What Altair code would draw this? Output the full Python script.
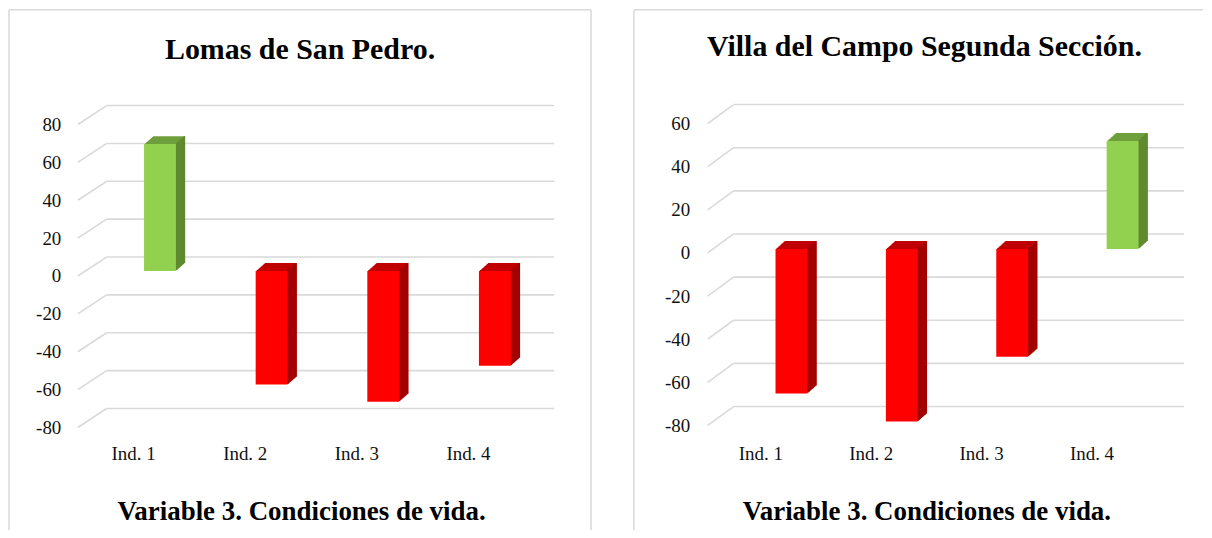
import altair as alt
import pandas as pd

categories = ["Ind. 1", "Ind. 2", "Ind. 3", "Ind. 4"]
lomas_values = [67, -60, -69, -50]
villa_values = [-67, -80, -50, 50]
lomas_ticks = [80, 60, 40, 20, 0, -20, -40, -60, -80]
villa_ticks = [60, 40, 20, 0, -20, -40, -60, -80]
title_left = "Lomas de San Pedro."
title_right = "Villa del Campo Segunda Sección."
x_title = "Variable 3. Condiciones de vida."

FONT = "Times New Roman, Liberation Serif, serif"
GREEN = dict(front="#92d050", top="#6f9e3c", side="#5f8a30")
RED = dict(front="#ff0000", top="#c00000", side="#a30000")
GRID = "#d9d9d9"
H = 522


def panel(values, ticks, title, width, yrange, xrange, label_right, bar_shift,
          zero_shift, diag_x0, back_x0, back_x1, right_frame, title_dx, title_off):
    bars = pd.DataFrame({"cat": categories, "v": values})
    tdf = pd.DataFrame({"t": ticks})
    yscale = alt.Scale(domain=[min(ticks), max(ticks)], range=yrange, nice=False, zero=False)
    xscale = alt.Scale(domain=categories, range=xrange, paddingInner=0, paddingOuter=0)
    yaxis = alt.Axis(values=ticks, title=None, grid=False, domain=False, ticks=False, tickSize=0,
                     labelPadding=0, offset=-label_right, labelFont=FONT, labelFontSize=19,
                     labelColor="#111111", labelExpr="'' + datum.value")
    xaxis = alt.Axis(title=x_title, orient="bottom", offset=-(H - 445), labelAngle=0,
                     labelBaseline="middle", labelPadding=0, ticks=False, tickSize=0,
                     domain=False, grid=False, labelFont=FONT, labelFontSize=19,
                     labelColor="#111111", titleFont=FONT, titleFontSize=27,
                     titleFontWeight="bold", titleColor="#000000", titleBaseline="middle",
                     titleY=58)
    layers = []

    f = alt.Chart(pd.DataFrame({"a": [0]}))
    layers.append(f.mark_rule(color=GRID, strokeWidth=1.5).encode(
        x=alt.value(0), y=alt.value(0), y2=alt.value(H)))
    layers.append(f.mark_rule(color=GRID, strokeWidth=1.5).encode(
        x=alt.value(0), x2=alt.value(width), y=alt.value(0)))
    if right_frame:
        layers.append(f.mark_rule(color=GRID, strokeWidth=1.5).encode(
            x=alt.value(width), y=alt.value(0), y2=alt.value(H)))

    g = alt.Chart(tdf)
    layers.append(g.mark_rule(color=GRID, strokeWidth=1.6, yOffset=-19).encode(
        y=alt.Y("t:Q", scale=yscale, axis=yaxis),
        x=alt.value(back_x0), x2=alt.value(back_x1)))
    layers.append(g.mark_rule(color=GRID, strokeWidth=1.6, y2Offset=-19).encode(
        y=alt.Y("t:Q", scale=yscale, axis=yaxis), y2="t:Q",
        x=alt.value(diag_x0), x2=alt.value(back_x0)))

    b = alt.Chart(bars)

    def col(key):
        return alt.condition(alt.datum.v > 0, alt.value(GREEN[key]), alt.value(RED[key]))

    xenc = alt.X("cat:N", scale=xscale, sort=categories, axis=xaxis)
    yenc = alt.Y("v:Q", scale=yscale, axis=yaxis)
    n = 9
    for k in range(1, n + 1):
        dx = k * 9 / n
        dy = -k * 8 / n
        layers.append(b.mark_bar(size=32, xOffset=bar_shift + dx, yOffset=zero_shift + dy,
                                 y2Offset=zero_shift + dy).encode(
            x=xenc, y=yenc, y2=alt.datum(0), color=col("top")))
    for k in range(1, n + 1):
        dx = k * 9 / n
        dy = -k * 8 / n
        layers.append(b.mark_bar(size=1.6, xOffset=bar_shift + 16 + dx - 0.5,
                                 yOffset=zero_shift + dy, y2Offset=zero_shift + dy).encode(
            x=xenc, y=yenc, y2=alt.datum(0), color=col("side")))
    layers.append(b.mark_bar(size=32, xOffset=bar_shift, yOffset=zero_shift,
                             y2Offset=zero_shift).encode(
        x=xenc, y=yenc, y2=alt.datum(0), color=col("front")))

    return alt.layer(*layers).properties(
        width=width, height=H,
        title=alt.TitleParams(text=title, font=FONT, fontSize=30, fontWeight="bold",
                              color="#000000", anchor="middle", frame="group",
                              baseline="middle", offset=title_off, dx=title_dx))


left = panel(lomas_values, lomas_ticks, title_left, 584, [419, 115], [69, 517], 52, 26.5,
             -5, 69, 98, 547, True, 0, -71)
right = panel(villa_values, villa_ticks, title_right, 571, [417, 114], [72, 515], 56, 30.7,
              -4, 74, 100, 552, False, 6, -68)

chart = alt.hconcat(left, right, spacing=41).properties(
    padding=0, background="white").configure_view(strokeWidth=0, stroke="transparent")

chart.save("out.html", embed_options={"renderer": "svg", "actions": False})
